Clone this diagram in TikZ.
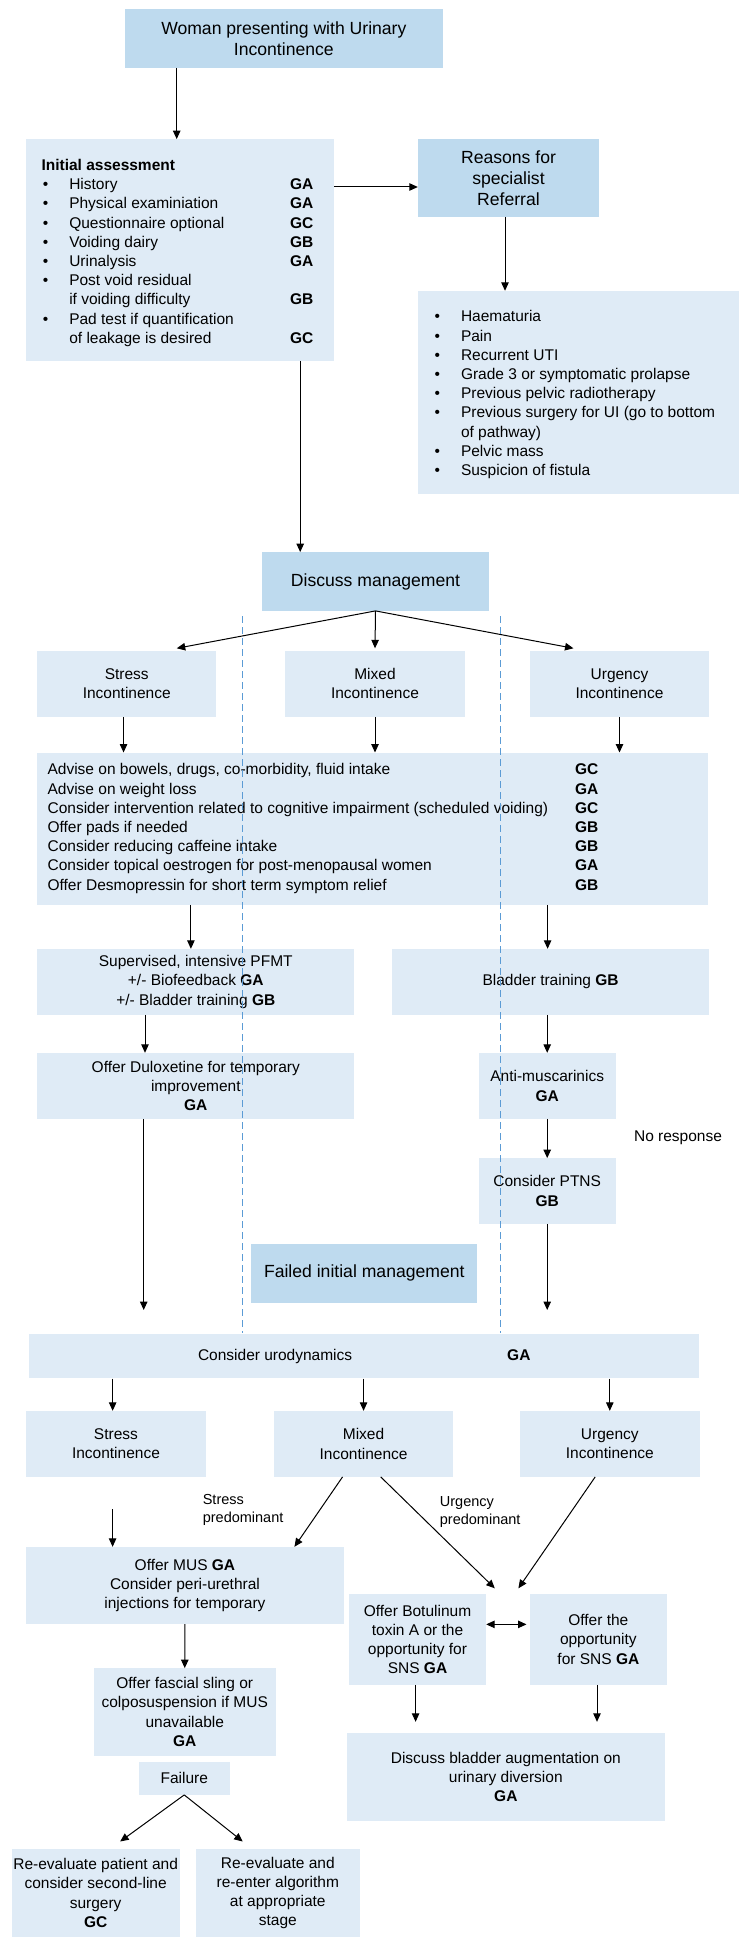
\documentclass[tikz,border=0pt]{standalone}
\usepackage{fontspec}
\setmainfont{Liberation Sans}
\usetikzlibrary{arrows.meta}

\definecolor{boxdark}{RGB}{190,218,238}
\definecolor{boxlight}{RGB}{223,235,246}
\definecolor{splitline}{RGB}{91,155,213}

\tikzset{
  boxsize/.style 2 args={minimum width=#1pt, minimum height=#2pt},
  darkbox/.style={fill=boxdark, inner sep=0pt, align=center, font=\fontsize{17.6}{21}\selectfont},
  lightbox/.style={fill=boxlight, inner sep=0pt, align=center, font=\fontsize{15.5}{19.2}\selectfont},
  listtext/.style={inner sep=0pt, anchor=west, font=\fontsize{15.5}{19.2}\selectfont},
  plaintext/.style={inner sep=0pt, font=\fontsize{15.5}{19.2}\selectfont},
  smalltext/.style={inner sep=0pt, align=left, anchor=west, font=\fontsize{14.5}{18.3}\selectfont},
  arr/.style={line width=1pt, -{Triangle[length=8.5pt,width=7.5pt]}},
  dblarr/.style={line width=1pt, {Triangle[length=8.5pt,width=7.5pt]}-{Triangle[length=8.5pt,width=7.5pt]}},
  split/.style={splitline, line width=1.1pt, dash pattern=on 7pt off 4pt},
}

\begin{document}
\begin{tikzpicture}[x=1pt,y=-1pt]
\useasboundingbox (0,0) rectangle (739,1937);

% top part
\node[darkbox, boxsize={317.7}{58.7}] (woman) at (283.85,38.35) {Woman presenting with Urinary\\Incontinence};
\node[lightbox, boxsize={308}{221.4}] (assess) at (180,250) {};
\node[listtext] (assesslist) at ([xshift=15.5pt,yshift=-3pt]assess.west) {\begin{tabular}{@{}p{27.8pt}@{}p{220.7pt}@{}l@{}}
\multicolumn{3}{@{}l}{\textbf{Initial assessment}}\\
\hspace{1.5pt}\textbullet & History & \textbf{GA}\\
\hspace{1.5pt}\textbullet & Physical examiniation & \textbf{GA}\\
\hspace{1.5pt}\textbullet & Questionnaire optional & \textbf{GC}\\
\hspace{1.5pt}\textbullet & Voiding dairy & \textbf{GB}\\
\hspace{1.5pt}\textbullet & Urinalysis & \textbf{GA}\\
\hspace{1.5pt}\textbullet & Post void residual & \\
 & if voiding difficulty & \textbf{GB}\\
\hspace{1.5pt}\textbullet & Pad test if quantification & \\
 & of leakage is desired & \textbf{GC}
\end{tabular}};
\node[darkbox, boxsize={181}{77.4}] (referral) at (508.5,178) {Reasons for\\specialist\\Referral};
\node[lightbox, boxsize={321}{202.7}] (reasons) at (578.5,392.35) {};
\node[listtext] (reasonslist) at ([xshift=16.6pt,yshift=-2.5pt]reasons.west) {\begin{tabular}{@{}p{26.4pt}@{}l@{}}
\textbullet & Haematuria\\
\textbullet & Pain\\
\textbullet & Recurrent UTI\\
\textbullet & Grade 3 or symptomatic prolapse\\
\textbullet & Previous pelvic radiotherapy\\
\textbullet & Previous surgery for UI (go to bottom\\
 & of pathway)\\
\textbullet & Pelvic mass\\
\textbullet & Suspicion of fistula
\end{tabular}};
\node[darkbox, boxsize={227}{58.4}] (discuss) at (375.5,581.5) {Discuss management};

% initial management
\node[lightbox, boxsize={179.1}{65.7}] (stress) at (126.75,683.85) {Stress\\Incontinence};
\node[lightbox, boxsize={180}{65.7}] (mixed) at (375,683.85) {Mixed\\Incontinence};
\node[lightbox, boxsize={179}{65.7}] (urgency) at (619.5,683.85) {Urgency\\Incontinence};
\node[lightbox, boxsize={670.6}{152}] (advise) at (372.5,828.7) {};
\node[listtext] (adviselist) at ([xshift=10.4pt]advise.west) {\begin{tabular}{@{}p{527.4pt}@{}l@{}}
Advise on bowels, drugs, co-morbidity, fluid intake & \textbf{GC}\\
Advise on weight loss & \textbf{GA}\\
Consider intervention related to cognitive impairment (scheduled voiding) & \textbf{GC}\\
Offer pads if needed & \textbf{GB}\\
Consider reducing caffeine intake & \textbf{GB}\\
Consider topical oestrogen for post-menopausal women & \textbf{GA}\\
Offer Desmopressin for short term symptom relief & \textbf{GB}
\end{tabular}};
\node[lightbox, boxsize={317.2}{65.7}] (pfmt) at (195.8,981.85) {Supervised, intensive PFMT\\+/- Biofeedback \textbf{GA}\\+/- Bladder training \textbf{GB}};
\node[lightbox, boxsize={317.2}{65.7}] (bladder) at (550.6,981.85) {Bladder training \textbf{GB}};
\node[lightbox, boxsize={317.2}{65.7}] (dulox) at (195.8,1085.85) {Offer Duloxetine for temporary\\improvement\\\textbf{GA}};
\node[lightbox, boxsize={136.7}{65.7}] (antimusc) at (547.2,1085.85) {Anti-muscarinics\\\textbf{GA}};
\node[plaintext] (noresp) at (678,1137.7) {No response};
\node[lightbox, boxsize={136.7}{65.4}] (ptns) at (547.2,1191) {Consider PTNS\\\textbf{GB}};
\node[darkbox, boxsize={226.2}{58.7}] (failed) at (364.3,1273.35) {Failed initial management};
\coordinate (dulend) at (143.7,1310);
\coordinate (ptnsend) at (547.2,1310);

% urodynamics and after
\node[lightbox, boxsize={670.1}{44.3}] (urodyn) at (364.25,1356.15) {Consider urodynamics\hspace{155pt}\textbf{GA}};
\node[lightbox, boxsize={180.1}{65.7}] (stressb) at (115.95,1443.85) {Stress\\Incontinence};
\node[lightbox, boxsize={179.5}{65.7}] (mixedb) at (363.55,1443.85) {Mixed\\Incontinence};
\node[lightbox, boxsize={180}{65.7}] (urgencyb) at (609.8,1443.85) {Urgency\\Incontinence};
\node[smalltext] (stresspre) at (202.6,1510.2) {Stress\\predominant};
\node[smalltext] (urgpre) at (439.7,1512) {Urgency\\predominant};
\coordinate (stressbstart) at (112.6,1509.3);
\coordinate (botoxin) at (494.8,1588.3);
\coordinate (snsin) at (518.4,1588.3);
\node[lightbox, boxsize={318.1}{77}] (mus) at (184.95,1585.5) {Offer MUS \textbf{GA}\\Consider peri-urethral\\injections for temporary};
\node[lightbox, boxsize={137}{90.7}] (botox) at (417.5,1639.35) {Offer Botulinum\\toxin A or the\\opportunity for\\SNS \textbf{GA}};
\node[lightbox, boxsize={136.7}{90.7}] (sns) at (598.35,1639.35) {Offer the\\opportunity\\for SNS \textbf{GA}};
\node[lightbox, boxsize={181.9}{87.4}] (fascial) at (184.75,1712) {Offer fascial sling or\\colposuspension if MUS\\unavailable\\\textbf{GA}};
\node[lightbox, boxsize={90.5}{32.7}] (failure) at (184.25,1778.35) {Failure};
\node[lightbox, boxsize={317.7}{87.7}] (augment) at (505.85,1776.85) {Discuss bladder augmentation on\\urinary diversion\\\textbf{GA}};
\node[lightbox, boxsize={167.7}{88}] (reevalp) at (95.65,1893) {Re-evaluate patient and\\consider second-line\\surgery\\\textbf{GC}};
\node[lightbox, boxsize={163.6}{88}] (reevala) at (277.8,1893) {Re-evaluate and\\re-enter algorithm\\at appropriate\\stage};

% arrows
\draw[arr] ([xshift=-107.15pt]woman.south) -- ([xshift=-107.15pt]woman.south |- assess.north);
\draw[arr] ([yshift=-9pt]referral.west -| assess.east) -- ([yshift=-9pt]referral.west);
\draw[arr] ([xshift=-3.5pt]referral.south) -- ([xshift=-3.5pt]referral.south |- reasons.north);
\draw[arr] ([xshift=-75.3pt]discuss.north |- assess.south) -- ([xshift=-75.3pt]discuss.north);
\draw[arr] (discuss.south) -- ([xshift=50pt,yshift=2.5pt]stress.north);
\draw[arr] (discuss.south) -- ([yshift=2.5pt]mixed.north);
\draw[arr] (discuss.south) -- ([xshift=-46pt,yshift=2.5pt]urgency.north);
\draw[arr] ([xshift=-3.2pt]stress.south) -- ([xshift=-3.2pt]stress.south |- advise.north);
\draw[arr] (mixed.south) -- (mixed.south |- advise.north);
\draw[arr] (urgency.south) -- (urgency.south |- advise.north);
\draw[arr] ([xshift=-4.9pt]pfmt.north |- advise.south) -- ([xshift=-4.9pt]pfmt.north);
\draw[arr] ([xshift=-3pt]bladder.north |- advise.south) -- ([xshift=-3pt]bladder.north);
\draw[arr] ([xshift=-50.8pt]pfmt.south) -- ([xshift=-50.8pt]pfmt.south |- dulox.north);
\draw[arr] (antimusc.north |- bladder.south) -- (antimusc.north);
\draw[arr] (antimusc.south) -- (ptns.north);
\draw[arr] ([xshift=-52.1pt]dulox.south) -- (dulend);
\draw[arr] (ptns.south) -- (ptnsend);
\draw[arr] ([xshift=-3.3pt]stressb.north |- urodyn.south) -- ([xshift=-3.3pt]stressb.north);
\draw[arr] (mixedb.north |- urodyn.south) -- (mixedb.north);
\draw[arr] (urgencyb.north |- urodyn.south) -- (urgencyb.north);
\draw[arr] (stressbstart) -- (stressbstart |- mus.north);
\draw[arr] ([xshift=-21pt]mixedb.south) -- ([xshift=109.5pt]mus.north);
\draw[arr] ([xshift=17.2pt]mixedb.south) -- (botoxin);
\draw[arr] ([xshift=-14.6pt]urgencyb.south) -- (snsin);
\draw[dblarr, shorten >=3.3pt] ([yshift=15pt]botox.east) -- ([yshift=15pt]botox.east -| sns.west);
\draw[arr] (mus.south) -- (fascial.north);
\draw[arr] (failure.south) -- ([xshift=24.5pt,yshift=7.3pt]reevalp.north);
\draw[arr] (failure.south) -- ([xshift=-35.1pt,yshift=7.3pt]reevala.north);
\draw[arr, shorten >=11pt] ([xshift=-1.9pt]botox.south) -- ([xshift=-1.9pt]botox.south |- augment.north);
\draw[arr, shorten >=11pt] ([xshift=-1.35pt]sns.south) -- ([xshift=-1.35pt]sns.south |- augment.north);

% dashed separators
\draw[split] (242.7,616) -- (242.7,1333.3);
\draw[split] (500.6,616) -- (500.6,1333.3);

\end{tikzpicture}
\end{document}
